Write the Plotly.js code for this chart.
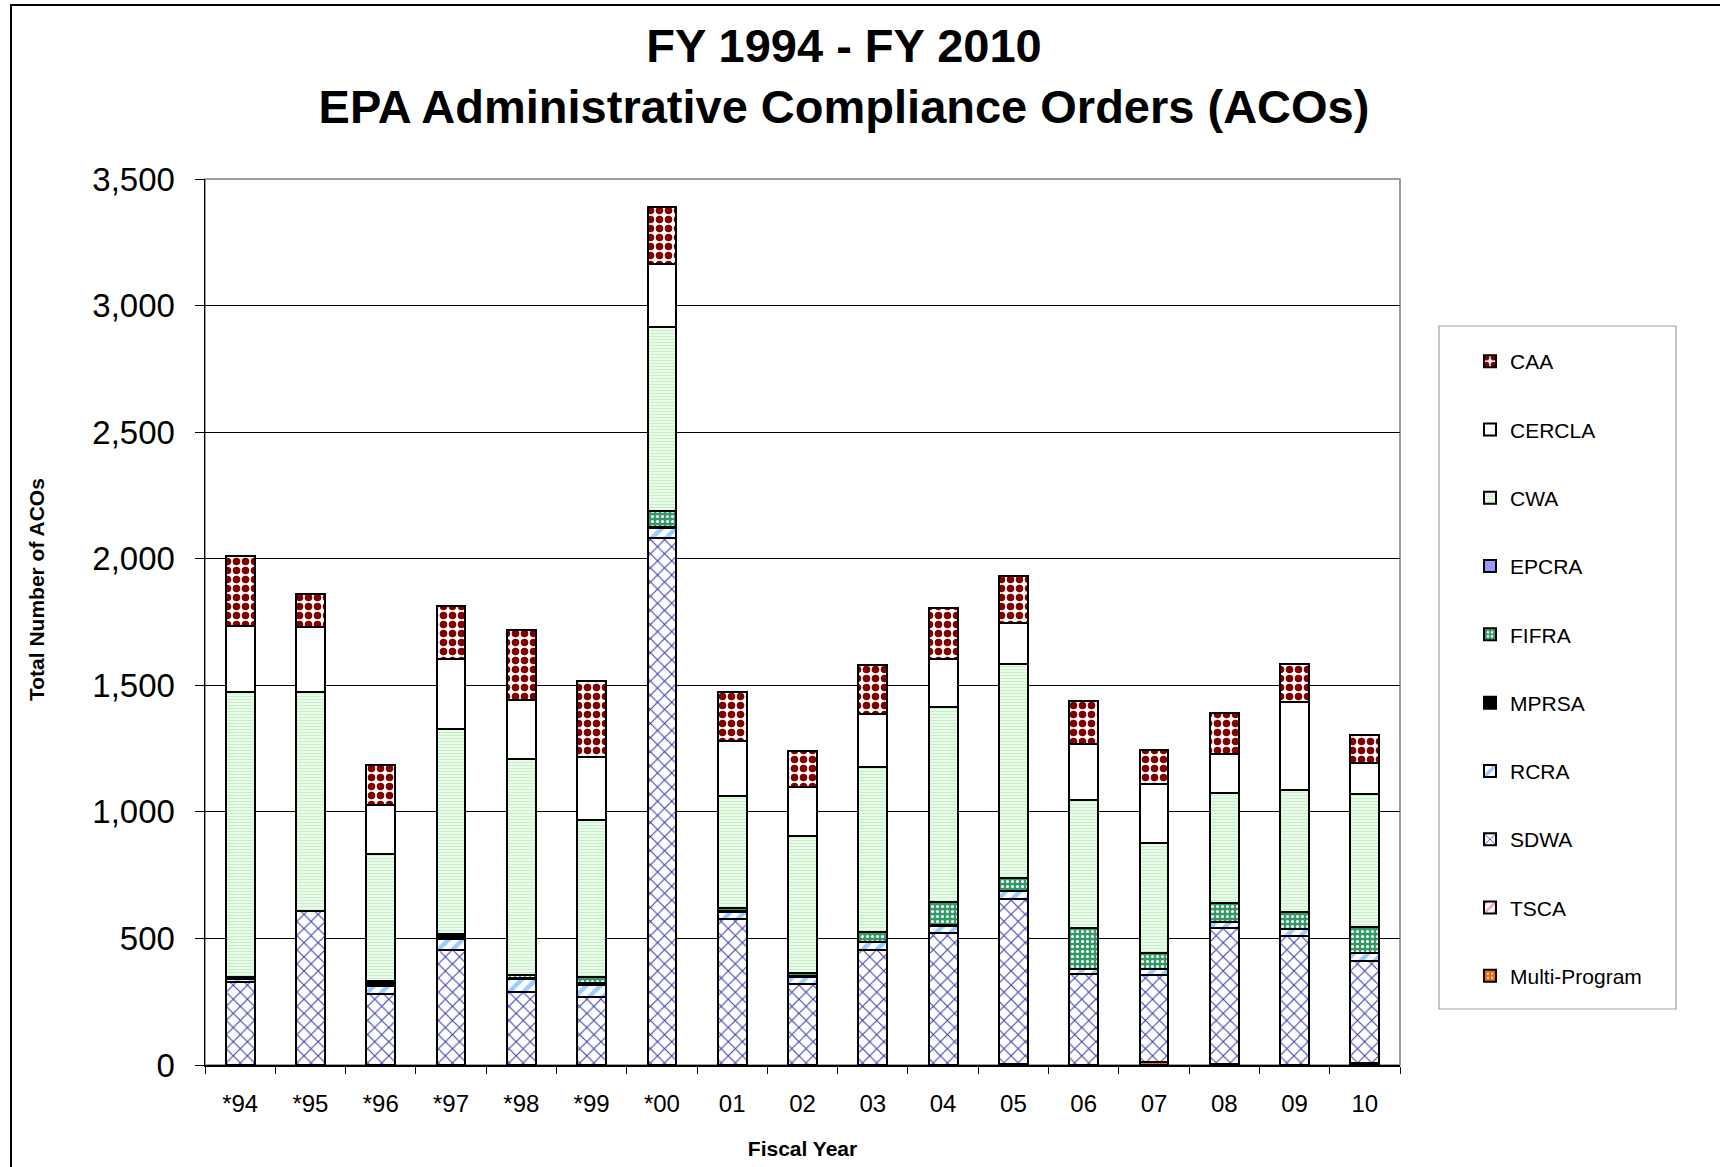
<!DOCTYPE html>
<html>
<head>
<meta charset="utf-8">
<script src="https://cdn.plot.ly/plotly-3.0.1.min.js"></script>
<style>
  html, body { margin: 0; padding: 0; background: #ffffff; }
  #chart { width: 1720px; height: 1167px; }
</style>
</head>
<body>
<div id="chart"></div>
<script>
// Fiscal years (categories)
const fiscalYears = ['*94','*95','*96','*97','*98','*99','*00','01','02','03','04','05','06','07','08','09','10'];

// Series values (number of ACOs), stacked bottom to top
const multiProgram = [0, 0, 0, 0, 0, 0, 0, 0, 0, 0, 0, 5, 0, 10, 3, 0, 7];
const tsca         = [0, 0, 0, 0, 0, 0, 0, 0, 0, 0, 0, 0, 0, 0, 0, 0, 0];
const sdwa         = [329, 608, 281, 455, 288, 268, 2083, 577, 319, 455, 523, 650, 358, 346, 538, 511, 405];
const rcra         = [12, 2, 32, 43, 50, 50, 40, 27, 30, 30, 28, 32, 20, 24, 22, 25, 30];
const mprsa        = [3, 0, 10, 12, 6, 5, 2, 5, 4, 2, 2, 2, 2, 0, 3, 2, 2];
const fifra        = [2, 0, 7, 6, 12, 25, 63, 10, 10, 37, 91, 50, 163, 64, 72, 67, 100];
const epcra        = [0, 0, 0, 0, 0, 0, 0, 0, 0, 0, 0, 0, 0, 0, 0, 0, 0];
const cwa          = [1126, 863, 502, 811, 851, 620, 728, 442, 542, 654, 770, 845, 502, 432, 437, 482, 528];
const cercla       = [261, 257, 196, 278, 233, 250, 250, 220, 192, 207, 191, 163, 224, 233, 155, 347, 121];
const caa          = [278, 130, 156, 210, 279, 299, 224, 193, 145, 195, 202, 186, 168, 137, 161, 152, 109];

const FONT = 'Liberation Sans, Arial, sans-serif';
const outline = { color: '#000000', width: 2 };

function bar(name, values, rank, pattern, color) {
  const m = { color: color || '#ffffff', line: outline };
  if (pattern) m.pattern = pattern;
  return {
    type: 'bar', name: name, x: fiscalYears, y: values,
    legendgroup: name, legendrank: rank, marker: m, hoverinfo: 'x+y+name'
  };
}

const traces = [
  bar('Multi-Program', multiProgram, 10, { shape: '.', fgcolor: '#ffd0a0', bgcolor: '#e46c0a', size: 5, solidity: 0.25 }),
  bar('TSCA', tsca, 9, { shape: '/', fgcolor: '#ff99cc', bgcolor: '#ffffff', size: 8, solidity: 0.4 }),
  bar('SDWA', sdwa, 8, { shape: 'x', fgcolor: '#3c3cb4', bgcolor: '#ffffff', size: 10, solidity: 0.2 }),
  bar('RCRA', rcra, 7, { shape: '/', fgcolor: '#99ccff', bgcolor: '#ffffff', size: 10, solidity: 0.45 }),
  bar('MPRSA', mprsa, 6, null, '#000000'),
  bar('FIFRA', fifra, 5, { shape: '.', fgcolor: '#ffffff', bgcolor: '#339966', size: 5, solidity: 0.3 }),
  bar('EPCRA', epcra, 4, null, '#9999ff'),
  bar('CWA', cwa, 3, { shape: '-', fgcolor: '#c4f2c4', bgcolor: '#ffffff', size: 3, solidity: 0.55 }),
  bar('CERCLA', cercla, 2, null, '#ffffff'),
  bar('CAA', caa, 1, { shape: '.', fgcolor: '#800000', bgcolor: '#ffffff', size: 9, solidity: 0.55 })
];

// plot area: x 205..1400, y 179..1065 (px)
const PL = 205, PR = 1400, PT = 179, PB = 1065;
const px2x = v => (v - PL) / (PR - PL);
const px2y = v => (PB - v) / (PB - PT);

const layout = {
  width: 1720, height: 1167,
  margin: { l: PL, r: 1720 - PR, t: PT, b: 1167 - PB, pad: 0 },
  paper_bgcolor: '#ffffff', plot_bgcolor: '#ffffff',
  font: { family: FONT, color: '#000000' },
  barmode: 'stack', bargap: 0.59,
  title: {
    text: '<b>FY 1994 - FY 2010<br>EPA Administrative Compliance Orders (ACOs)</b>',
    font: { family: FONT, size: 47, color: '#000000' },
    xref: 'container', x: 0.4907, xanchor: 'center',
    yref: 'container', y: 0.947, yanchor: 'top'
  },
  xaxis: {
    type: 'category',
    showline: true, linecolor: '#000000', linewidth: 1.5,
    ticks: 'outside', tickson: 'boundaries', ticklen: 7, tickcolor: '#000000', tickwidth: 1,
    tickfont: { family: FONT, size: 24, color: '#000000' },
    ticklabelstandoff: 17,
    showgrid: false, zeroline: false, fixedrange: true,
    title: { text: '<b>Fiscal Year</b>', font: { family: FONT, size: 21, color: '#000000' }, standoff: 25 },
    automargin: false
  },
  yaxis: {
    range: [0, 3500], dtick: 500, tick0: 0, tickformat: ',d',
    showline: true, linecolor: '#000000', linewidth: 1.5,
    ticks: 'outside', ticklen: 9, tickcolor: '#000000', tickwidth: 1,
    tickfont: { family: FONT, size: 33, color: '#000000' },
    ticklabelstandoff: 13,
    showgrid: true, gridcolor: '#000000', gridwidth: 1,
    zeroline: false, fixedrange: true, automargin: false
  },
  showlegend: true,
  legend: {
    x: px2x(1470), xanchor: 'left',
    y: px2y(341), yanchor: 'top',
    traceorder: 'grouped', tracegroupgap: 38,
    bgcolor: 'rgba(0,0,0,0)', borderwidth: 0,
    font: { family: FONT, size: 21, color: '#000000' },
    itemwidth: 30
  },
  annotations: [{
    text: '<b>Total Number of ACOs</b>', textangle: -90,
    xref: 'paper', yref: 'paper', x: px2x(36), y: px2y(590),
    xanchor: 'center', yanchor: 'middle', showarrow: false,
    font: { family: FONT, size: 21, color: '#000000' }
  }],
  shapes: [
    // plot area border (gray)
    { type: 'rect', xref: 'paper', yref: 'paper', x0: 0, x1: 1, y0: 0, y1: 1,
      line: { color: '#808080', width: 1.5 }, layer: 'below' },
    // legend box
    { type: 'rect', xref: 'paper', yref: 'paper',
      x0: px2x(1439), x1: px2x(1676), y0: px2y(1009), y1: px2y(326),
      line: { color: '#a0a0a0', width: 1.2 }, layer: 'above' },
    // outer chart border
    { type: 'rect', xref: 'paper', yref: 'paper',
      x0: px2x(11), x1: px2x(1760), y0: px2y(1200), y1: px2y(5),
      line: { color: '#000000', width: 2 }, layer: 'above' }
  ]
};

Plotly.newPlot('chart', traces, layout, { displayModeBar: false, staticPlot: true });
</script>
</body>
</html>
